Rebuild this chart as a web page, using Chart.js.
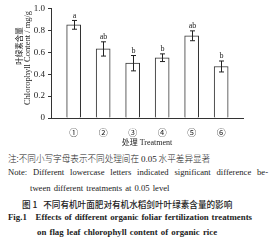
<!DOCTYPE html>
<html>
<head>
<meta charset="utf-8">
<script src="https://cdn.jsdelivr.net/npm/chart.js"></script>
<style>
    body { margin: 0; background: #fff; }
    #wrap { position: relative; width: 276px; height: 240px; overflow: hidden; background: #fff; }
    canvas { position: absolute; left: 0; top: 0; }
    .line { position: absolute; color: #222; white-space: nowrap; font-family: 'Liberation Serif', 'Noto Sans CJK SC', serif; }
    .just { white-space: normal; text-align: justify; text-align-last: justify; }
</style>
</head>
<body>
<div id="wrap">
    <canvas id="chart" width="276" height="148"></canvas>
    <div class="line" style="left:8px; top:152px; font-size:8.6px; font-family:'Noto Sans CJK SC'; font-weight:300;">注:不同小写字母表示不同处理间在 <span style="font-family:'Liberation Serif'; font-size:9px;">0.05</span> 水平差异显著</div>
    <div class="line just" style="left:8px; top:167px; width:260px; font-size:8.6px;">Note: Different lowercase letters indicated significant difference be-</div>
    <div class="line" style="left:30px; top:183px; font-size:8.6px; word-spacing:1px;">tween different treatments at 0.05 level</div>
    <div class="line" style="left:22px; top:198px; font-size:8.6px; font-family:'Noto Sans CJK SC'; font-weight:500;">图 1&nbsp;&nbsp;&nbsp;不同有机叶面肥对有机水稻剑叶叶绿素含量的影响</div>
    <div class="line just" style="left:8px; top:212px; width:244px; font-size:8.8px; font-weight:bold;">Fig.1&nbsp;&nbsp; Effects of different organic foliar fertilization treatments</div>
    <div class="line" style="left:37px; top:227px; font-size:8.8px; font-weight:bold; word-spacing:1px;">on flag leaf chlorophyll content of organic rice</div>
</div>
<script>
// data
const treatments = ['①', '②', '③', '④', '⑤', '⑥'];
const chlorophyll = [0.85, 0.63, 0.50, 0.55, 0.75, 0.47];
const errors = [0.04, 0.065, 0.07, 0.035, 0.045, 0.05];
const letters = ['a', 'ab', 'b', 'b', 'ab', 'b'];
const yTicks = [0, 0.2, 0.4, 0.6, 0.8, 1.0];

const inkColor = '#222';
const serif = 'Liberation Serif';

// error bars + significance letters
const errorBarPlugin = {
    id: 'errorBars',
    afterDatasetsDraw(chart) {
        const ctx = chart.ctx;
        const x = chart.scales.x;
        const y = chart.scales.y;
        ctx.save();
        ctx.strokeStyle = inkColor;
        ctx.fillStyle = inkColor;
        ctx.lineWidth = 1;
        ctx.font = '8px ' + serif;
        ctx.textAlign = 'center';
        ctx.textBaseline = 'bottom';
        for (let i = 0; i < chlorophyll.length; i++) {
            const px = Math.round(x.getPixelForValue(i + 1)) + 0.5;
            const top = y.getPixelForValue(chlorophyll[i] + errors[i]);
            const bot = y.getPixelForValue(chlorophyll[i] - errors[i]);
            ctx.beginPath();
            ctx.moveTo(px, top);
            ctx.lineTo(px, bot);
            ctx.moveTo(px - 2.5, top);
            ctx.lineTo(px + 2.5, top);
            ctx.moveTo(px - 2.5, bot);
            ctx.lineTo(px + 2.5, bot);
            ctx.stroke();
            ctx.fillText(letters[i], px, top - 1);
        }
        ctx.restore();
    }
};

// two line rotated y title
const yTitlePlugin = {
    id: 'yTitle',
    afterDraw(chart) {
        const ctx = chart.ctx;
        ctx.save();
        ctx.fillStyle = inkColor;
        ctx.textAlign = 'center';
        ctx.textBaseline = 'middle';
        ctx.translate(19, 46);
        ctx.rotate(-Math.PI / 2);
        ctx.font = '7.5px "Noto Sans CJK SC"';
        ctx.fillText('叶绿素含量', 0, 0);
        ctx.restore();

        ctx.save();
        ctx.fillStyle = inkColor;
        ctx.textAlign = 'center';
        ctx.textBaseline = 'middle';
        ctx.translate(28, 58);
        ctx.rotate(-Math.PI / 2);
        ctx.font = '8.5px ' + serif;
        ctx.fillText('Chlorophyll Content / mg/g', 0, 0);
        ctx.restore();
    }
};

const ctx = document.getElementById('chart');
new Chart(ctx, {
    type: 'bar',
    data: {
        datasets: [{
            data: chlorophyll.map((v, i) => ({ x: i + 1, y: v })),
            backgroundColor: '#fff',
            borderColor: '#333',
            borderWidth: 1,
            barThickness: 14,
        }]
    },
    options: {
        responsive: false,
        animation: false,
        layout: { padding: { left: 0, top: 7, right: 33, bottom: 0 } },
        plugins: {
            legend: { display: false },
            tooltip: { enabled: false },
        },
        scales: {
            x: {
                type: 'linear',
                min: 0.774,
                max: 6.198,
                afterBuildTicks: axis => { axis.ticks = treatments.map((t, i) => ({ value: i + 1 })); },
                afterFit: axis => { axis.height = 30; },
                grid: { display: false },
                border: { color: '#333', width: 1 },
                ticks: {
                    padding: 1,
                    color: inkColor,
                    font: { family: 'Noto Sans CJK SC', size: 9 },
                    callback: v => treatments[Math.round(v) - 1],
                    maxRotation: 0,
                    autoSkip: false,
                },
                title: {
                    display: true,
                    text: '处理 Treatment',
                    color: inkColor,
                    font: { family: serif + ', Noto Sans CJK SC', size: 8 },
                    padding: { top: 3, bottom: 0 },
                },
            },
            y: {
                min: 0,
                max: 1,
                afterBuildTicks: axis => { axis.ticks = yTicks.map(v => ({ value: v })); },
                afterFit: axis => { axis.width = 51; },
                grid: { drawOnChartArea: false, tickLength: 3, color: '#333' },
                border: { color: '#333', width: 1 },
                ticks: {
                    padding: 3,
                    color: inkColor,
                    font: { family: serif, size: 9 },
                    callback: v => v === 0 ? '0' : v.toFixed(1),
                },
            },
        },
    },
    plugins: [errorBarPlugin, yTitlePlugin],
});
</script>
</body>
</html>
